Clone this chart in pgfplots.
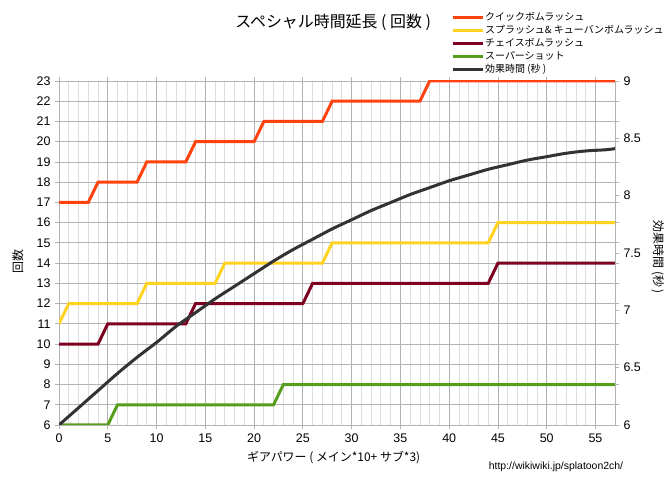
\documentclass[border=0pt]{standalone}
\usepackage{pgfplots}
\pgfplotsset{compat=1.18}
\usepackage{fontspec}
\setmainfont{Liberation Sans}
\newfontfamily\jp{Noto Sans CJK JP}

\definecolor{quick}{HTML}{FF420E}
\definecolor{splash}{HTML}{FFD320}
\definecolor{chase}{HTML}{7E0021}
\definecolor{shot}{HTML}{579D1C}
\definecolor{effect}{HTML}{333333}
\definecolor{gridmaj}{HTML}{B3B3B3}
\definecolor{gridmin}{HTML}{DDDDDD}

\pgfplotsset{
  common/.style={
    at={(59bp,53bp)}, anchor=south west,
    scale only axis, width=556bp, height=344bp,
    xmin=0, xmax=57,
    tick style={gridmaj, line width=0.8bp},
    tick align=outside,
    major tick length=4bp, minor tick length=0bp,
    ticklabel style={font=\fontsize{12.5}{12.5}\selectfont},
    /pgf/number format/assume math mode=true,
    label style={font=\jp\fontsize{12}{14}\selectfont},
  },
}

\begin{document}
\begin{tikzpicture}
\useasboundingbox (0,0) rectangle (670bp,478bp);

\begin{axis}[
  common,
  ymin=6, ymax=23,
  xtick={0,5,...,55}, minor x tick num=4,
  ytick={6,7,...,23},
  grid=both,
  major grid style={gridmaj, line width=0.8bp},
  minor grid style={gridmin, line width=0.8bp},
  axis line style={gridmaj, line width=0.8bp},
  xticklabel style={yshift=-1bp},
  yticklabel style={xshift=-1bp},
  xlabel={ギアパワー ( メイン*10+ サブ*3)},
  xlabel style={at={(rel axis cs:0.494,-0.096)}, anchor=center},
  ylabel={回数},
  ylabel style={at={(rel axis cs:-0.074,0.474)}, anchor=center},
  title={スペシャル時間延長 ( 回数 )},
  title style={at={(rel axis cs:0.493,1.154)}, anchor=center,
    font=\jp\fontsize{16}{18}\selectfont},
  legend style={at={(rel axis cs:0.705,1.205)}, anchor=north west,
    draw=none, fill=none, inner sep=0pt,
    font=\jp\fontsize{10}{11}\selectfont,
    nodes={inner sep=1bp, text height=8.5bp, text depth=2.2bp},
    row sep=0.3bp},
  legend cell align=left,
  legend image code/.code={\draw[#1] (0bp,0bp) -- (30bp,0bp);},
  every axis plot/.append style={line width=3bp},
]
\addplot[quick] coordinates {
  (0,17)(3,17)(4,18)(8,18)(9,19)(13,19)(14,20)(20,20)(21,21)(27,21)(28,22)(37,22)(38,23)(57,23)
};
\addlegendentry{クイックボムラッシュ}
\addplot[splash] coordinates {
  (0,11)(1,12)(8,12)(9,13)(16,13)(17,14)(27,14)(28,15)(44,15)(45,16)(57,16)
};
\addlegendentry{スプラッシュ\& キューバンボムラッシュ}
\addplot[chase] coordinates {
  (0,10)(4,10)(5,11)(13,11)(14,12)(25,12)(26,13)(44,13)(45,14)(57,14)
};
\addlegendentry{チェイスボムラッシュ}
\addplot[shot] coordinates {
  (0,6)(5,6)(6,7)(22,7)(23,8)(57,8)
};
\addlegendentry{スーパーショット}
\addlegendimage{effect, line width=3bp}
\addlegendentry{効果時間 (秒 )}
\end{axis}

\begin{axis}[
  common,
  ymin=6, ymax=9,
  hide x axis,
  axis y line*=right,
  axis line style={gridmaj, line width=0.8bp},
  ytick={6,6.5,...,9},
  yticklabel style={xshift=1bp},
  ylabel={効果時間 (秒 )},
  ylabel style={at={(rel axis cs:1.077,0.488)}, anchor=center, rotate=180},
]
\addplot[effect, line width=3bp, smooth] coordinates {
  (0,6.00)(2,6.15)(4,6.30)(6,6.45)(8,6.59)(10,6.72)(12,6.86)(14,6.98)
  (16,7.10)(18,7.21)(20,7.32)(22,7.43)(24,7.53)(26,7.62)(28,7.71)
  (30,7.79)(32,7.87)(34,7.94)(36,8.01)(38,8.07)(40,8.13)(42,8.18)
  (44,8.23)(46,8.27)(48,8.31)(50,8.34)(52,8.37)(54,8.39)(56,8.40)(57,8.41)
};
\end{axis}

\node[font=\fontsize{10.5}{11}\selectfont] at (556bp,11bp) {http://wikiwiki.jp/splatoon2ch/};
\end{tikzpicture}
\end{document}
